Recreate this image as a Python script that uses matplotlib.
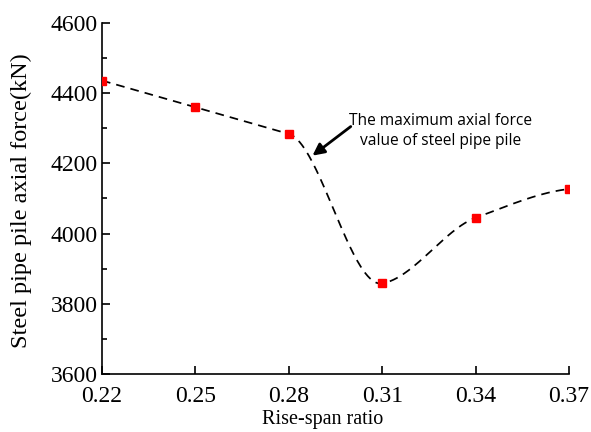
import numpy as np
import matplotlib
matplotlib.use("Agg")
import matplotlib.pyplot as plt
from matplotlib.ticker import MultipleLocator, FixedLocator

# Rise-span ratio vs. steel pipe pile axial force
ratio = [0.22, 0.25, 0.28, 0.31, 0.34, 0.37]
axial_force = [4436, 4360, 4284, 3858, 4045, 4127]
x_ticks = [0.22, 0.25, 0.28, 0.31, 0.34, 0.37]
x_tick_labels = ["0.22", "0.25", "0.28", "0.31", "0.34", "0.37"]
note_text = "The maximum axial force\nvalue of steel pipe pile"


def akima(xs, ys, xq):
    """Akima piecewise cubic interpolation."""
    xs = np.asarray(xs, float)
    ys = np.asarray(ys, float)
    n = len(xs)
    h = np.diff(xs)
    m = np.diff(ys) / h
    # extend secant slopes by two on each side
    mm = np.empty(n + 3)
    mm[2:n + 1] = m
    mm[1] = 2 * mm[2] - mm[3]
    mm[0] = 2 * mm[1] - mm[2]
    mm[n + 1] = 2 * mm[n] - mm[n - 1]
    mm[n + 2] = 2 * mm[n + 1] - mm[n]
    d = np.empty(n)
    for i in range(n):
        w1 = abs(mm[i + 3] - mm[i + 2])
        w2 = abs(mm[i + 1] - mm[i])
        if w1 + w2 < 1e-12:
            d[i] = 0.5 * (mm[i + 1] + mm[i + 2])
        else:
            d[i] = (w1 * mm[i + 1] + w2 * mm[i + 2]) / (w1 + w2)

    idx = np.clip(np.searchsorted(xs, xq) - 1, 0, n - 2)
    hh = h[idx]
    t = (xq - xs[idx]) / hh
    h00 = 2 * t ** 3 - 3 * t ** 2 + 1
    h10 = t ** 3 - 2 * t ** 2 + t
    h01 = -2 * t ** 3 + 3 * t ** 2
    h11 = t ** 3 - t ** 2
    return (h00 * ys[idx] + h10 * hh * d[idx]
            + h01 * ys[idx + 1] + h11 * hh * d[idx + 1])


fig = plt.figure(figsize=(5.91, 4.32), dpi=100)
ax = fig.add_axes([0.1726, 0.1343, 0.7902, 0.8125])

xs = np.linspace(ratio[0], ratio[-1], 400)
ax.plot(xs, akima(ratio, axial_force, xs), color="black",
        lw=1.25, dashes=(5, 3.5))
ax.plot(ratio, axial_force, linestyle="none", marker="s", ms=6,
        color="#ff0000", mec="#ff0000", zorder=3)

ax.set_xlim(0.22, 0.37)
ax.set_ylim(3600, 4600)
ax.xaxis.set_major_locator(FixedLocator(x_ticks))
ax.set_xticklabels(x_tick_labels)
ax.yaxis.set_major_locator(MultipleLocator(200))
ax.yaxis.set_minor_locator(MultipleLocator(100))

for side in ("top", "right"):
    ax.spines[side].set_visible(False)
for side in ("left", "bottom"):
    ax.spines[side].set_linewidth(1.2)

serif = ["Liberation Serif", "DejaVu Serif"]
ax.tick_params(axis="both", which="major", direction="in", length=6, width=1.2,
               labelsize=17)
ax.tick_params(axis="x", which="major", pad=9)
ax.tick_params(axis="y", which="major", pad=3)
ax.tick_params(axis="y", which="minor", direction="in", length=3.5, width=1.2)
for lab in ax.get_xticklabels() + ax.get_yticklabels():
    lab.set_fontfamily(serif)

ax.set_xlabel("Rise-span ratio", fontsize=14.5, family=serif)
ax.xaxis.set_label_coords(0.473, -0.13)
ax.xaxis.label.set_va("center")
ax.set_ylabel("Steel pipe pile axial force(kN)", fontsize=17.5, family=serif)
ax.yaxis.set_label_coords(-0.173, 0.495)
ax.yaxis.label.set_va("center")

ax.text(0.3286, 4292, note_text, ha="center", va="center", fontsize=11.2,
        family=["Open Sans", "DejaVu Sans"], linespacing=1.35)
ax.annotate("", xy=(0.2876, 4222), xytext=(0.2999, 4305),
            arrowprops=dict(arrowstyle="-|>,head_length=0.7,head_width=0.35",
                            color="black", lw=2.0, shrinkA=0, shrinkB=0))

fig.savefig("out.png", dpi=100, facecolor="white")
